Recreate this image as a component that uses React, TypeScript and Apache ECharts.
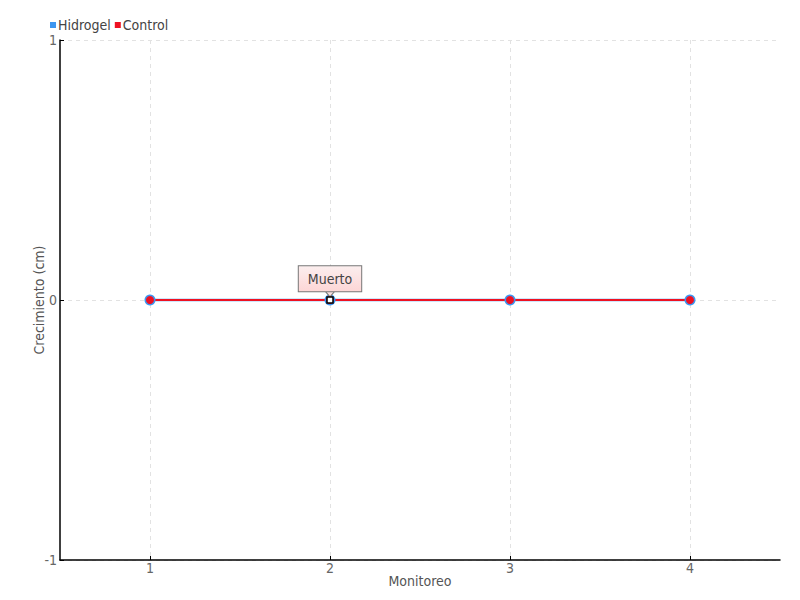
import React, { useEffect, useRef } from "react";
import * as echarts from "echarts";

const categories = ["1", "2", "3", "4"];
const hidrogel = [0, 0, 0, 0];
const control = [0, 0, 0, 0];
const yTicks = [-1, 0, 1];
const noteIndex = 1;
const noteText = "Muerto";

const FONT = "'DejaVu Sans Condensed', 'DejaVu Sans', sans-serif";

export default function App() {
  const ref = useRef<HTMLDivElement>(null);
  useEffect(() => {
    const chart = echarts.init(ref.current!, null, { renderer: "svg" });
    chart.setOption({
      animation: false,
      textStyle: { fontFamily: FONT },
      legend: {
        left: 45,
        top: 13,
        itemWidth: 6,
        itemHeight: 6,
        itemGap: 4,
        icon: "rect",
        textStyle: { fontSize: 14, color: "#444", padding: [0, 0, 0, -3], fontFamily: FONT },
        data: ["Hidrogel", "Control"],
      },
      grid: { left: 60, right: 20, top: 40, bottom: 40 },
      xAxis: {
        type: "category",
        data: categories,
        boundaryGap: true,
        name: "Monitoreo",
        nameLocation: "middle",
        nameGap: 14,
        nameMoveOverlap: false,
        nameTextStyle: { fontSize: 14, color: "#555", fontFamily: FONT },
        axisLine: { onZero: false, lineStyle: { color: "#000", width: 1.5 } },
        axisTick: { show: true, alignWithLabel: true, inside: true, length: 4, lineStyle: { color: "#000" } },
        axisLabel: { color: "#666", fontSize: 14, margin: 1, fontFamily: FONT },
        splitLine: { show: true, alignWithLabel: true, lineStyle: { color: "#e2e2e2", type: [4, 4] } },
      },
      yAxis: {
        type: "value",
        min: yTicks[0],
        max: yTicks[yTicks.length - 1],
        interval: 1,
        name: "Crecimiento (cm)",
        nameLocation: "middle",
        nameGap: 14,
        nameMoveOverlap: false,
        nameTextStyle: { fontSize: 14, color: "#555", fontFamily: FONT },
        axisLine: { show: true, lineStyle: { color: "#000", width: 1.5 } },
        axisTick: { show: true, inside: true, length: 4, lineStyle: { color: "#000" } },
        axisLabel: { color: "#666", fontSize: 14, margin: 3, fontFamily: FONT },
        splitLine: { show: true, lineStyle: { color: "#e2e2e2", type: [4, 4] } },
      },
      series: [
        {
          name: "Hidrogel",
          type: "line",
          data: hidrogel,
          color: "#3d96f0",
          symbol: "circle",
          symbolSize: 11,
          lineStyle: { width: 2.6, color: "#3d96f0" },
          itemStyle: { color: "#3d96f0" },
        },
        {
          name: "Control",
          type: "line",
          data: control,
          color: "#ee1122",
          symbol: "circle",
          symbolSize: 8,
          lineStyle: { width: 2, color: "#ee1122" },
          itemStyle: { color: "#ee1122" },
          markPoint: {
            silent: true,
            data: [
              {
                coord: [noteIndex, control[noteIndex]],
                symbol: "triangle",
                symbolRotate: 180,
                symbolSize: [10, 6],
                symbolOffset: [0, -6],
                itemStyle: { color: "#fde0e0", borderColor: "#777", borderWidth: 1 },
                label: { show: false },
              },
              {
                coord: [noteIndex, control[noteIndex]],
                symbol: "rect",
                symbolSize: 6,
                itemStyle: { color: "#fff", borderColor: "#000", borderWidth: 1.5 },
                label: {
                  show: true,
                  position: "top",
                  distance: 5,
                  formatter: noteText,
                  color: "#444",
                  fontSize: 14,
                  fontFamily: FONT,
                  padding: [6, 9, 5, 9],
                  borderColor: "#777",
                  borderWidth: 1,
                  backgroundColor: new echarts.graphic.LinearGradient(0, 0, 0, 1, [
                    { offset: 0, color: "#fbeeee" },
                    { offset: 1, color: "#fdd6d6" },
                  ]),
                },
              },
            ],
          },
        },
      ],
    });
    return () => chart.dispose();
  }, []);
  return <div ref={ref} style={{ width: 800, height: 600, margin: -8 }} />;
}
